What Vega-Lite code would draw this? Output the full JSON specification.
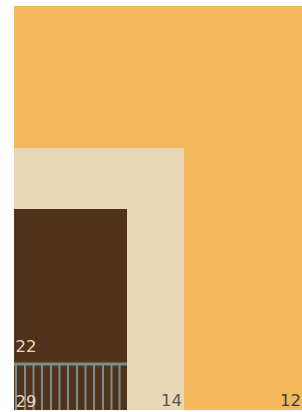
{
  "$schema": "https://vega.github.io/schema/vega-lite/v6.json",
  "width": 288,
  "height": 404,
  "autosize": "none",
  "padding": {"left": 14, "top": 6, "right": 0, "bottom": 2},
  "background": "white",
  "config": {"view": {"stroke": null}},
  "datasets": {
    "blocks": [
      {"group": "12", "x0": 0, "x1": 288, "y0": 0, "y1": 404},
      {"group": "14", "x0": 0, "x1": 170, "y0": 0, "y1": 262},
      {"group": "22", "x0": 0, "x1": 113, "y0": 0, "y1": 201}
    ],
    "stripes": [
      {"group": "29", "x0": 2, "x1": 2, "y0": 0, "y1": 46},
      {"group": "29", "x0": 11, "x1": 11, "y0": 0, "y1": 46},
      {"group": "29", "x0": 19.5, "x1": 19.5, "y0": 0, "y1": 46},
      {"group": "29", "x0": 28, "x1": 28, "y0": 0, "y1": 46},
      {"group": "29", "x0": 37, "x1": 37, "y0": 0, "y1": 46},
      {"group": "29", "x0": 45.5, "x1": 45.5, "y0": 0, "y1": 46},
      {"group": "29", "x0": 54, "x1": 54, "y0": 0, "y1": 46},
      {"group": "29", "x0": 63, "x1": 63, "y0": 0, "y1": 46},
      {"group": "29", "x0": 71.5, "x1": 71.5, "y0": 0, "y1": 46},
      {"group": "29", "x0": 80, "x1": 80, "y0": 0, "y1": 46},
      {"group": "29", "x0": 89, "x1": 89, "y0": 0, "y1": 46},
      {"group": "29", "x0": 97.5, "x1": 97.5, "y0": 0, "y1": 46},
      {"group": "29", "x0": 105.5, "x1": 105.5, "y0": 0, "y1": 46}
    ],
    "topline": [
      {"group": "29", "x0": 0, "x1": 113, "y0": 46, "y1": 46}
    ],
    "labels": [
      {"label": "22", "tone": "light", "x": 1.5, "y": 58, "side": "left"},
      {"label": "29", "tone": "light", "x": 1.5, "y": 3, "side": "left"},
      {"label": "14", "tone": "mid", "x": 168, "y": 4, "side": "right"},
      {"label": "12", "tone": "dark", "x": 287, "y": 4, "side": "right"}
    ]
  },
  "layer": [
    {
      "data": {"name": "blocks"},
      "mark": {"type": "rect"},
      "encoding": {
        "x": {"field": "x0", "type": "quantitative", "scale": {"domain": [0, 288], "nice": false, "zero": false}, "axis": null},
        "x2": {"field": "x1"},
        "y": {"field": "y0", "type": "quantitative", "scale": {"domain": [0, 404], "nice": false, "zero": false}, "axis": null},
        "y2": {"field": "y1"},
        "color": {"field": "group", "type": "nominal", "legend": null, "sort": null,
          "scale": {"domain": ["12", "14", "22", "29"], "range": ["#F4B85C", "#E8D8B6", "#4F331D", "#7E8B87"]}}
      }
    },
    {
      "data": {"name": "stripes"},
      "mark": {"type": "rule", "strokeWidth": 2},
      "encoding": {
        "x": {"field": "x0", "type": "quantitative"},
        "x2": {"field": "x1"},
        "y": {"field": "y0", "type": "quantitative"},
        "y2": {"field": "y1"},
        "color": {"field": "group", "type": "nominal", "legend": null}
      }
    },
    {
      "data": {"name": "topline"},
      "mark": {"type": "rule", "strokeWidth": 3},
      "encoding": {
        "x": {"field": "x0", "type": "quantitative"},
        "x2": {"field": "x1"},
        "y": {"field": "y0", "type": "quantitative"},
        "y2": {"field": "y1"},
        "color": {"field": "group", "type": "nominal", "legend": null}
      }
    },
    {
      "data": {"name": "labels"},
      "transform": [{"filter": "datum.side === 'left'"}],
      "mark": {"type": "text", "font": "DejaVu Sans", "fontSize": 16.5, "baseline": "alphabetic", "align": "left"},
      "encoding": {
        "x": {"field": "x", "type": "quantitative"},
        "y": {"field": "y", "type": "quantitative"},
        "text": {"field": "label"},
        "fill": {"field": "tone", "type": "nominal", "legend": null,
          "scale": {"domain": ["light", "mid", "dark"], "range": ["#E8D8B6", "#555555", "#3A3A3A"]}}
      }
    },
    {
      "data": {"name": "labels"},
      "transform": [{"filter": "datum.side === 'right'"}],
      "mark": {"type": "text", "font": "DejaVu Sans", "fontSize": 16.5, "baseline": "alphabetic", "align": "right"},
      "encoding": {
        "x": {"field": "x", "type": "quantitative"},
        "y": {"field": "y", "type": "quantitative"},
        "text": {"field": "label"},
        "fill": {"field": "tone", "type": "nominal", "legend": null}
      }
    }
  ]
}
